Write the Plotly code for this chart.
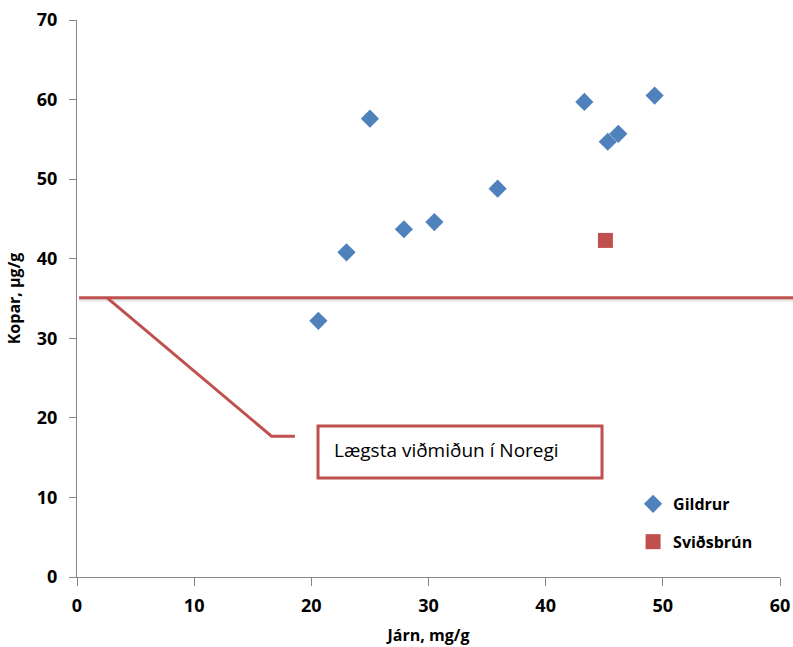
import plotly.graph_objects as go

# Data
gildrur_x = [20.6, 23.0, 25.0, 27.9, 30.5, 35.9, 43.3, 45.3, 46.2, 49.3]
gildrur_y = [32.2, 40.8, 57.6, 43.7, 44.6, 48.8, 59.7, 54.7, 55.7, 60.5]
svidsbrun_x = [45.1]
svidsbrun_y = [42.3]
threshold = 35.1
threshold_label = "Lægsta viðmiðun í Noregi"
x_ticks = [0, 10, 20, 30, 40, 50, 60]
y_ticks = [0, 10, 20, 30, 40, 50, 60, 70]

BLUE = "#4F81BD"
RED = "#C0504D"
AXIS = "#868686"
FONT = "Open Sans"

fig = go.Figure()
fig.add_trace(go.Scatter(
    x=gildrur_x, y=gildrur_y, mode="markers", name="Gildrur",
    legendgroup="a",
    marker=dict(symbol="diamond", size=14, color=BLUE),
))
fig.add_trace(go.Scatter(
    x=svidsbrun_x, y=svidsbrun_y, mode="markers", name="Sviðsbrún",
    legendgroup="b",
    marker=dict(symbol="square", size=15, color=RED),
))

# shadow of threshold line
fig.add_shape(type="line", xref="paper", yref="y", x0=0.003, x1=1.02,
              y0=threshold - 0.3, y1=threshold - 0.3,
              line=dict(color="rgba(0,0,0,0.10)", width=3))
# threshold line
fig.add_shape(type="line", xref="paper", yref="y", x0=0.003, x1=1.02,
              y0=threshold, y1=threshold,
              line=dict(color=RED, width=3))
# callout connector
fig.add_shape(type="path", xref="x", yref="y",
              path=f"M 2.55 {threshold} L 16.6 17.7 L 18.6 17.7",
              line=dict(color=RED, width=3))
# callout box
fig.add_shape(type="rect", xref="x", yref="y",
              x0=20.57, x1=44.81, y0=12.44, y1=18.98,
              line=dict(color=RED, width=3), fillcolor="white")
fig.add_annotation(
    x=21.8, y=15.9, xref="x", yref="y", text=threshold_label, showarrow=False,
    font=dict(family=FONT, size=19, color="#000000"),
    xanchor="left", yanchor="middle",
)

fig.update_layout(
    width=793, height=647,
    margin=dict(l=77, r=13, t=20, b=70),
    plot_bgcolor="white", paper_bgcolor="white",
    font=dict(family=FONT, color="#000000"),
    legend=dict(x=0.791, y=0.097, xanchor="left", yanchor="middle",
                font=dict(family=FONT, size=16, color="#000000", weight="bold"),
                tracegroupgap=14, itemwidth=30, bgcolor="rgba(0,0,0,0)"),
    showlegend=True,
)
fig.update_xaxes(
    range=[0, 60], tickvals=x_ticks, ticktext=[str(v) for v in x_ticks],
    showgrid=False, zeroline=False, showline=True, linecolor=AXIS, linewidth=1,
    ticks="outside", ticklen=8, tickcolor=AXIS, ticklabelstandoff=4,
    tickfont=dict(family=FONT, size=18, weight="bold"), automargin=False,
    title=dict(text="Járn, mg/g", font=dict(family=FONT, size=16, weight="bold"), standoff=14),
)
fig.update_yaxes(
    range=[0, 70], tickvals=y_ticks, ticktext=[str(v) for v in y_ticks],
    showgrid=False, zeroline=False, showline=True, linecolor=AXIS, linewidth=1,
    ticks="outside", ticklen=7, tickcolor=AXIS, ticklabelstandoff=8,
    tickfont=dict(family=FONT, size=18, weight="bold"), automargin=False,
    title=dict(text="Kopar, µg/g", font=dict(family=FONT, size=16, weight="bold"), standoff=12),
)

fig.write_html("out.html")
